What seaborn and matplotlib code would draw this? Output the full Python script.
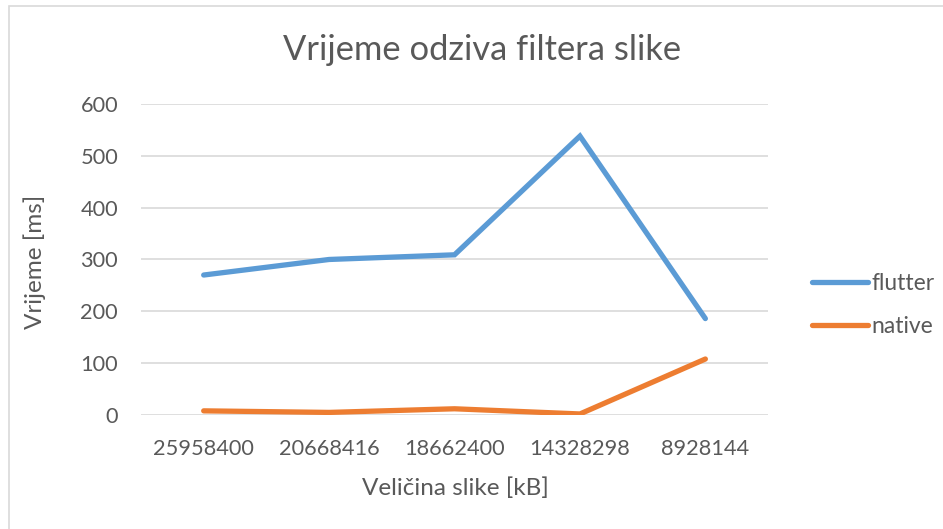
import pandas as pd
import matplotlib.pyplot as plt
import matplotlib.patches as patches
import seaborn as sns

# Image sizes (x categories) and response times in ms
sizes = ['25958400', '20668416', '18662400', '14328298', '8928144']
flutter = [270, 300, 309, 538, 186]
native = [8, 5, 12, 2, 108]

df = pd.DataFrame({
    'size': sizes * 2,
    'time': flutter + native,
    'platform': ['flutter'] * len(sizes) + ['native'] * len(sizes),
})

sns.set_style('white')
plt.rcParams['font.family'] = ['Lato', 'DejaVu Sans']

text_col = '#595959'
palette = {'flutter': '#5B9BD5', 'native': '#ED7D31'}

W, H = 943, 529
fig = plt.figure(figsize=(W / 100, H / 100), dpi=100)
ax = fig.add_axes([0.1495, 0.2155, 0.665, 0.588])

sns.lineplot(data=df, x='size', y='time', hue='platform', palette=palette,
             linewidth=3.8, sort=False, ax=ax, legend=False)
for line in ax.lines:
    line.set_solid_capstyle('round')
    line.set_solid_joinstyle('miter')

ax.set_xlim(-0.5, len(sizes) - 0.5)
ax.set_ylim(0, 600)
ax.set_yticks(range(0, 601, 100))
ax.yaxis.grid(True, color='#D9D9D9', linewidth=1.2)
ax.set_axisbelow(True)
for s in ax.spines.values():
    s.set_visible(False)
ax.tick_params(axis='both', length=0, labelsize=15.7, labelcolor=text_col)
ax.tick_params(axis='x', pad=17)
ax.tick_params(axis='y', pad=16.5)
ax.set_xlabel('')
ax.set_ylabel('')

# title and axis titles placed like the original
fig.text(482 / W, 1 - 50 / H, 'Vrijeme odziva filtera slike', ha='center', va='center',
         fontsize=24.8, color=text_col)
fig.text(455 / W, 1 - 488 / H, 'Veličina slike [kB]', ha='center', va='center',
         fontsize=17.5, color=text_col)
fig.text(35 / W, 1 - 262 / H, 'Vrijeme [ms]', ha='center', va='center',
         rotation=90, fontsize=17.5, color=text_col)

# legend at the right like the original
handles = [plt.Line2D([], [], color=palette[k], linewidth=3.8, solid_capstyle='round')
           for k in ['flutter', 'native']]
fig.legend(handles, ['flutter', 'native'], loc='center left',
           bbox_to_anchor=(0.839, 0.4234), frameon=False, fontsize=16.5,
           labelcolor=text_col, handlelength=2.45, handletextpad=0.15,
           labelspacing=0.92)

# chart area border
fig.patches.append(patches.Rectangle((9 / W, -0.01), 1.0, 1 - 6 / H + 0.01,
                                     transform=fig.transFigure, fill=False,
                                     edgecolor='#D9D9D9', linewidth=1.2))

fig.savefig('out.png', dpi=100)
